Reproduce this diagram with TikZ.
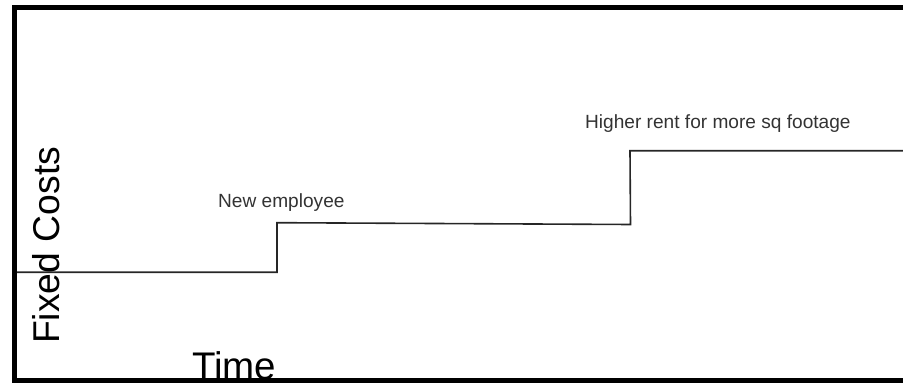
\documentclass[tikz,border=0pt]{standalone}
\usepackage{fontspec}
\setmainfont{Liberation Sans}
\begin{document}
\begin{tikzpicture}[x=1pt,y=-1pt,
  frame/.style={line width=5pt,line join=miter,black},
  stepline/.style={line width=1.6pt,color=black!85},
  smalllabel/.style={inner sep=0pt,anchor=base west,text=black!80,font=\fontsize{19.1}{21}\selectfont},
  biglabel/.style={inner sep=0pt,anchor=base west,text=black,font=\fontsize{38.5}{40}\selectfont}]
\useasboundingbox (0,0) rectangle (903,387);
% frame
\coordinate (ftr) at (903,8);
\coordinate (ftl) at (14.5,8);
\coordinate (fbl) at (14.5,380.5);
\coordinate (fbr) at (903,380.5);
\draw[frame] (ftr) -- (ftl) -- (fbl) -- (fbr);
% step line
\coordinate (s0) at (17,272.3);
\coordinate (s1) at (277,272.3);
\coordinate (s2) at (277,222.7);
\coordinate (s3) at (630.5,224.5);
\coordinate (s4) at (630,150.8);
\coordinate (s5) at (903,150.8);
\draw[stepline] (s0) -- (s1) -- (s2) -- (s3) -- (s4) -- (s5);
% labels
\node[smalllabel] (emp) at (218,208) {New employee};
\node[smalllabel] (rent) at (585,129) {Higher rent for more sq footage};
\node[biglabel] (time) at (192,380) {Time};
\node[biglabel,rotate=90,font=\fontsize{37.3}{40}\selectfont] (fc) at (59.5,344) {Fixed Costs};
\end{tikzpicture}
\end{document}
